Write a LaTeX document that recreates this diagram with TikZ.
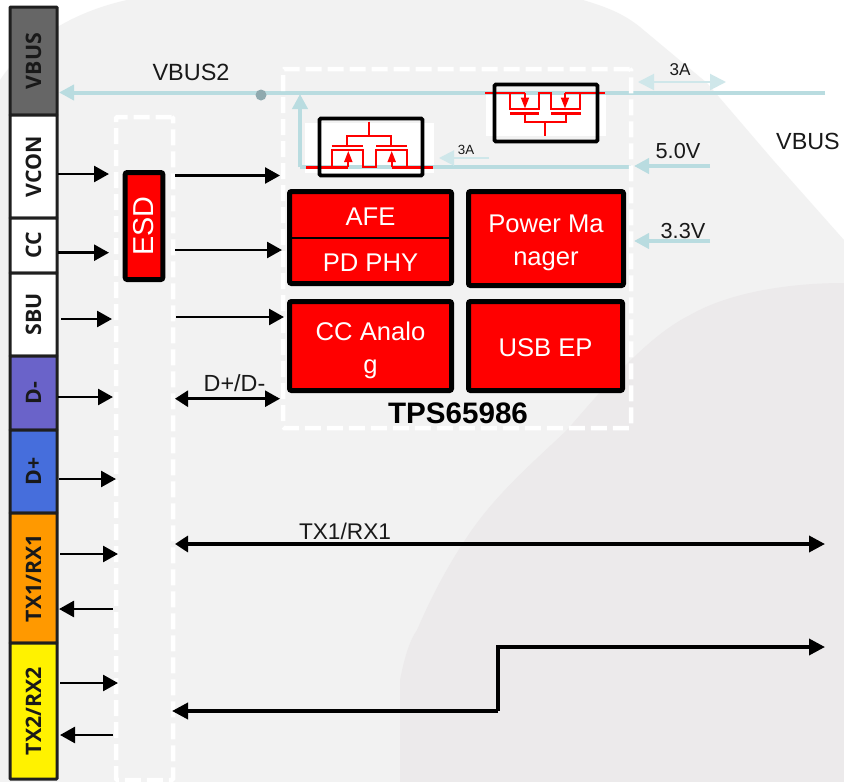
\documentclass[tikz,border=0pt]{standalone}
\usepackage{fontspec}
\setmainfont{Liberation Sans}
\newfontfamily\pinfont{Open Sans}[BoldFont={* Bold}]
\usetikzlibrary{arrows.meta}
\def\px{.75pt}
\newcommand{\pinlabel}[1]{\raisebox{-.9pt}{#1}}
\definecolor{bgA}{HTML}{F2F2F2}
\definecolor{bgB}{HTML}{ECEAEB}
\definecolor{railblue}{HTML}{B9DCE0}
\definecolor{paleblue}{HTML}{CFE7EA}
\definecolor{dotblue}{HTML}{8FA9AE}
\definecolor{pinD}{HTML}{6A63C9}
\definecolor{pinP}{HTML}{466EDC}
\definecolor{pinT}{HTML}{FF9900}
\definecolor{pinV}{HTML}{666666}
\tikzset{
  x=.75pt,y=-.75pt,
  pincell/.style={draw=black!88,line width=3*\px,rounded corners=.5pt,minimum width=#1*\px,minimum height=47*\px,inner sep=0pt,rotate=90,font=\pinfont\bfseries\fontsize{16}{16}\selectfont,text=black!90},
  redbox/.style={draw=black,fill=red,line width=5*\px,rounded corners=1.5pt,inner sep=0pt,text=white,align=center},
  redtext/.style={text=white,inner sep=0pt,align=center,font=\fontsize{19.2}{24.75}\selectfont},
  label/.style={inner sep=0pt,text=black!90},
  wire/.style={draw=black,line width=2.6*\px,-{Triangle[length=15*\px,width=16*\px]}},
  bus/.style={draw=black,line width=3.6*\px,-{Triangle[length=16*\px,width=16*\px]}},
  busboth/.style={draw=black,line width=3.6*\px,{Triangle[length=13*\px,width=16*\px]}-{Triangle[length=16*\px,width=16*\px]}},
  wireboth/.style={draw=black,line width=2.6*\px,{Triangle[length=13*\px,width=16*\px]}-{Triangle[length=15*\px,width=16*\px]}},
  rail/.style={draw=railblue,line width=4*\px},
  railarrow/.style={rail,-{Triangle[length=15*\px,width=15*\px]}},
  thinrail/.style={draw=paleblue,line width=2*\px},
  dashbox/.style={draw=white,line width=4.5*\px,dash pattern=on 16*\px off 6*\px,rounded corners=1pt},
  swbox/.style={draw=black,line width=3.8*\px,rounded corners=1pt,minimum width=103*\px,minimum height=57*\px,inner sep=0pt},
  fet/.style={draw=red,line width=1.9*\px},
  fetbar/.style={draw=red,line width=2.4*\px},
  fethead/.style={fet,-{Triangle[length=11*\px,width=8*\px]}},
}
\begin{document}
\begin{tikzpicture}
\useasboundingbox (0,0) rectangle (844,782);
% background
\fill[white] (0,0) rectangle (844,782);
\begin{scope}
\clip (0,0) rectangle (844,782);
\fill[bgA] (0,80) .. controls (20,50) and (60,15) .. (127,0) -- (583,0)
  .. controls (610,8) and (625,15) .. (640,27) -- (707,83) -- (773,160) -- (844,240) -- (844,782) -- (0,782) -- cycle;
\fill[bgB] (400,782) -- (400,680) .. controls (405,655) and (410,640) .. (417,630)
  .. controls (430,600) and (445,570) .. (467,537)
  .. controls (495,495) and (530,465) .. (567,430)
  .. controls (610,380) and (650,335) .. (690,315)
  .. controls (730,292) and (790,283) .. (844,283) -- (844,782) -- cycle;
\end{scope}
% connector column
\node[pincell=108,fill=pinV] (vbus) at (33.5,61) {\pinlabel{VBUS}};
\node[pincell=103,fill=white] (vcon) at (33.5,166.5) {\pinlabel{VCON}};
\node[pincell=55,fill=white] (cc) at (33.5,245.5) {\pinlabel{CC}};
\node[pincell=83,fill=white] (sbu) at (33.5,314.5) {\pinlabel{SBU}};
\node[pincell=74,fill=pinD] (dm) at (33.5,393) {\pinlabel{D-}};
\node[pincell=83,fill=pinP] (dp) at (33.5,471.5) {\pinlabel{D+}};
\node[pincell=130,fill=pinT] (tx1) at (33.5,578) {\pinlabel{TX1/RX1}};
\node[pincell=136,fill=yellow] (tx2) at (33.5,711) {\pinlabel{TX2/RX2}};
% coordinates of rails
\coordinate (vbr) at (825,92.5);
\coordinate (vbl) at (59,92.5);
\coordinate (v5l) at (300,167);
\coordinate (v5r) at (631,167);
\coordinate (v5t) at (300,94);
\coordinate (fiveA) at (710,166);
\coordinate (fiveB) at (634,166);
\coordinate (threeA) at (710,241);
\coordinate (threeB) at (634,241);
\coordinate (aL) at (638,82);
\coordinate (aR) at (726,82);
\coordinate (smA) at (489,158);
\coordinate (smB) at (439,158);
% white backing of the switches
\fill[white] (305,123) rectangle (434,173);
\fill[white] (486,93) rectangle (606,136);
% rails
\draw[railarrow] (vbr) -- (vbl);
\draw[rail] (v5r) -- (v5l);
\draw[railarrow] (v5l) -- (v5t);
\draw[railarrow] (fiveA) -- (fiveB);
\draw[railarrow] (threeA) -- (threeB);
\draw[thinrail,{Triangle[length=16*\px,width=16*\px]}-{Triangle[length=16*\px,width=16*\px]}] (aL) -- (aR);
\draw[thinrail,-{Triangle[length=15*\px,width=15*\px]}] (smA) -- (smB);
\node[circle,fill=dotblue,minimum size=11*\px,inner sep=0pt] (dot) at (261,95) {};
% dashed outlines
\node[dashbox,minimum width=57*\px,minimum height=663*\px,inner sep=0pt] (esdzone) at (144.5,448.5) {};
\node[dashbox,minimum width=348*\px,minimum height=359*\px,inner sep=0pt] (tpszone) at (457,248.5) {};
% lower switch
\draw[fetbar] (306,167.3) -- (348.3,167.3);
\draw[fetbar] (391.7,167.3) -- (433.3,167.3);
\draw[fet] (332.3,167.3) |- (363.3,150) -- (363.3,167.3) -- (376,167.3) -- (376,150) -- (407.3,150) -- (407.3,167.3);
\draw[fetbar] (331.7,146) -- (363.3,146);
\draw[fetbar] (376,146) -- (407.3,146);
\draw[fet] (347.3,146) |- (390.7,136) -- (390.7,146);
\draw[fet] (369.3,121.7) -- (369.3,136);
\draw[fethead] (348.3,167.3) -- (348.3,151);
\draw[fethead] (391.7,167.3) -- (391.7,151);
% upper switch
\draw[fetbar] (485,92.7) -- (525,92.7);
\draw[fetbar] (565,92.7) -- (605,92.7);
\draw[fet] (510,92.7) |- (539.3,109.3) -- (539.3,93.3) -- (551.3,93.3) -- (551.3,109.3) -- (580,109.3) -- (580,92.7);
\draw[fetbar] (510,113.3) -- (539.3,113.3);
\draw[fetbar] (551.3,113.3) -- (580.7,113.3);
\draw[fet] (525,113.3) |- (566,122.3) -- (566,113.3);
\draw[fet] (545.3,122.3) -- (545.3,136);
\draw[fethead] (525,92.7) -- (525,108.5);
\draw[fethead] (565,92.7) -- (565,108.5);
\node[swbox] (sw1) at (371,147) {};
\node[swbox] (sw2) at (546,113) {};
% blocks
\node[redbox,rotate=90,font=\fontsize{21.6}{24}\selectfont,minimum width=107*\px,minimum height=37.6*\px] (esd) at (144,226) {\raisebox{-1pt}{ESD}};
\node[redbox,minimum width=162*\px,minimum height=92*\px] (afephy) at (370.5,237.5) {};
\coordinate (divL) at (289.5,238);
\coordinate (divR) at (451.5,238);
\draw[black,line width=1.5*\px] (divL) -- (divR);
\node[redtext] (afe) at (370.5,217) {AFE};
\node[redtext] (phy) at (370.5,263) {PD PHY};
\node[redbox,minimum width=155*\px,minimum height=94*\px] (pwr) at (546,238.5) {};
\node[redtext] (pwrtext) at (546,243) {Power Ma\\nager};
\node[redbox,minimum width=162*\px,minimum height=89*\px] (ccan) at (370.5,346) {};
\node[redtext] (cctext) at (370.5,350) {CC Analo\\g};
\node[redbox,minimum width=154*\px,minimum height=89*\px] (usb) at (545.5,346) {};
\node[redtext] (usbtext) at (545.5,347.5) {USB EP};
% labels
\node[label,font=\fontsize{17.6}{20}\selectfont] (lv2) at (191,72) {VBUS2};
\node[label,font=\fontsize{12.8}{14}\selectfont] (l3a) at (680,70) {3A};
\node[label,font=\fontsize{10}{12}\selectfont] (l3s) at (466,150) {3A};
\node[label,font=\fontsize{16.3}{18}\selectfont] (l5) at (678,151) {5.0V};
\node[label,font=\fontsize{16.3}{18}\selectfont] (l33) at (683,231) {3.3V};
\node[label,font=\fontsize{17.5}{20}\selectfont] (lvb) at (808,141) {VBUS};
\node[label,font=\fontsize{17.5}{20}\selectfont] (ldd) at (234.5,383) {D+/D-};
\node[label,font=\fontsize{17}{20}\selectfont] (ltx) at (345,531) {TX1/RX1};
\node[label,font=\bfseries\fontsize{22.2}{24}\selectfont,text=black] (ltps) at (458,413) {TPS65986};
% wire end points
\coordinate (a1) at (58,174); \coordinate (a2) at (109,174);
\coordinate (b1) at (58,252.7); \coordinate (b2) at (109,252.7);
\coordinate (c1) at (175,175.5); \coordinate (c2) at (280,175.5);
\coordinate (d1) at (175,250); \coordinate (d2) at (282,250);
\coordinate (e1) at (61,319); \coordinate (e2) at (112,319);
\coordinate (f1) at (176,317); \coordinate (f2) at (284,317);
\coordinate (g1) at (58,397); \coordinate (g2) at (113,397);
\coordinate (h1) at (175,398.7); \coordinate (h2) at (280,398.7);
\coordinate (i1) at (59,479); \coordinate (i2) at (116,479);
\coordinate (j1) at (60,554); \coordinate (j2) at (118,554);
\coordinate (k1) at (113,609); \coordinate (k2) at (59,609);
\coordinate (l1) at (60,683); \coordinate (l2) at (118,683);
\coordinate (m1) at (113,735); \coordinate (m2) at (60,735);
\coordinate (n1) at (175,544); \coordinate (n2) at (825,544);
\coordinate (o1) at (172,711); \coordinate (o2) at (498,711); \coordinate (o3) at (498,647); \coordinate (o4) at (825,647);
\foreach \s/\t in {a1/a2,b1/b2,c1/c2,d1/d2,e1/e2,f1/f2,g1/g2,i1/i2,j1/j2,k1/k2,l1/l2,m1/m2}
  \draw[wire] (\s) -- (\t);
\draw[wireboth] (h1) -- (h2);
\draw[busboth] (n1) -- (n2);
\draw[bus] (o2) -- (o1);
\draw[bus] (o2) -- (o3) -- (o4);
\end{tikzpicture}
\end{document}
